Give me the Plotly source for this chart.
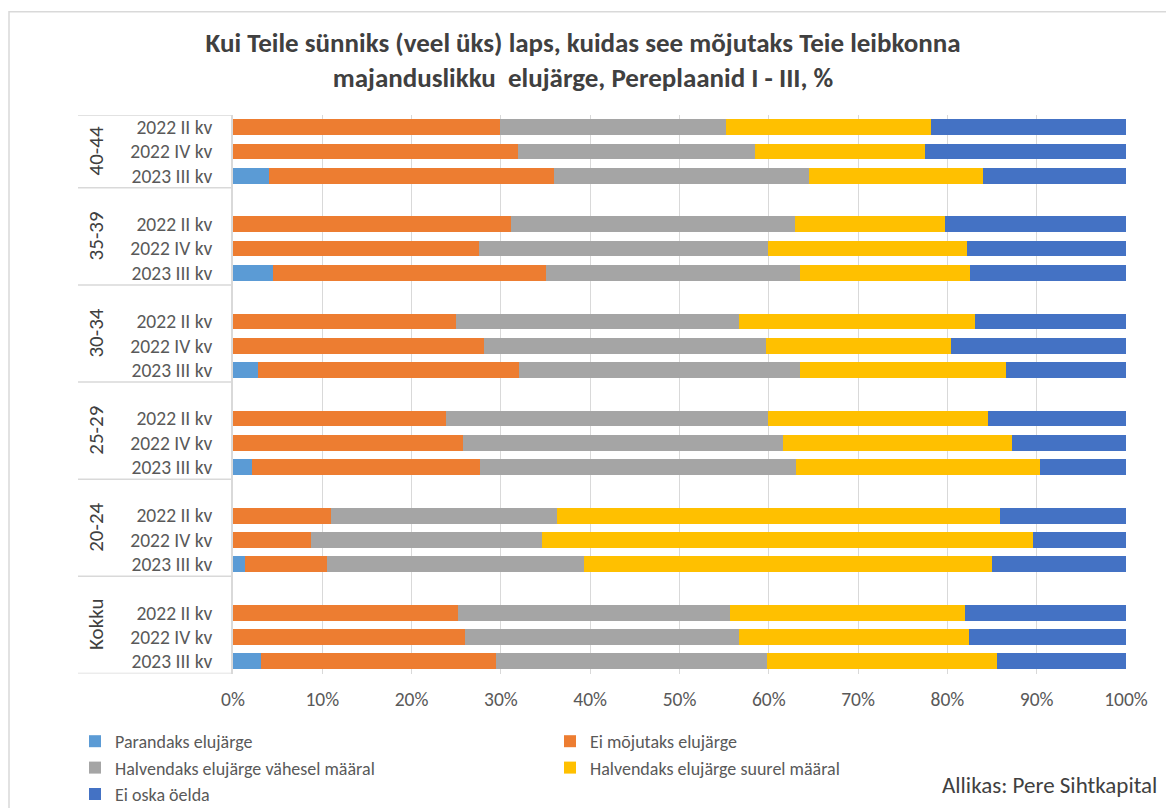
import plotly.graph_objects as go

groups = ["40-44", "35-39", "30-34", "25-29", "20-24", "Kokku"]
quarters = ["2022 II kv", "2022 IV kv", "2023 III kv"]

series_names = [
    "Parandaks elujärge",
    "Ei mõjutaks elujärge",
    "Halvendaks elujärge vähesel määral",
    "Halvendaks elujärge suurel määral",
    "Ei oska öelda",
]
series_colors = ["#5B9BD5", "#ED7D31", "#A5A5A5", "#FFC000", "#4472C4"]
# legend column of each series (two-column legend as in the reference)
series_legend = ["legend", "legend2", "legend", "legend2", "legend"]

# values in display order: group by group (top to bottom), quarters top to bottom
parandaks = [0, 0, 4.0, 0, 0, 4.5, 0, 0, 2.8, 0, 0, 2.1, 0, 0, 1.3, 0, 0, 3.1]
ei_mojutaks = [29.9, 31.9, 31.9, 31.1, 27.6, 30.5, 25.0, 28.1, 29.2,
               23.8, 25.8, 25.6, 11.0, 8.7, 9.2, 25.2, 26.0, 26.4]
vahesel = [25.3, 26.6, 28.6, 31.8, 32.3, 28.5, 31.7, 31.6, 31.5,
           36.1, 35.8, 35.4, 25.3, 25.9, 28.8, 30.4, 30.7, 30.3]
suurel = [23.0, 19.0, 19.5, 16.8, 22.3, 19.0, 26.4, 20.7, 23.1,
          24.7, 25.6, 27.3, 49.6, 55.0, 45.7, 26.4, 25.7, 25.7]
ei_oska = [21.8, 22.5, 16.0, 20.3, 17.8, 17.5, 16.9, 19.6, 13.4,
           15.4, 12.8, 9.6, 14.1, 10.4, 15.0, 18.0, 17.6, 14.5]

x_ticks = list(range(0, 101, 10))

FONT = "Carlito, 'Liberation Sans Narrow', 'Open Sans', sans-serif"

ng, nq = len(groups), len(quarters)
slot = nq + 1  # one empty slot between groups
positions, labels = [], []
for gi, g in enumerate(groups):
    for qi, q in enumerate(quarters):
        positions.append((ng - 1 - gi) * slot + (nq - 1 - qi))
        labels.append(q)
top = (ng - 1) * slot + nq - 0.5

fig = go.Figure()
for name, color, leg, vals in zip(series_names, series_colors, series_legend,
                                  [parandaks, ei_mojutaks, vahesel, suurel, ei_oska]):
    fig.add_trace(go.Bar(x=vals, y=positions, orientation="h", name=name,
                         marker=dict(color=color, line=dict(width=0)),
                         width=0.65, legend=leg))

W, H = 1166, 808
L, R, T, B = 233, 40, 115, 130
pw, ph = W - L - R, H - T - B
def px_x(px):
    return (px - L) / pw
def px_y(py):
    return (H - B - py) / ph

shapes = []
bounds = [-0.5]
for gi in range(ng):
    bounds.append(min(gi * slot + nq + 0.5, top))
for b in bounds:
    shapes.append(dict(type="line", xref="paper", yref="y", x0=px_x(78), x1=0,
                       y0=b, y1=b, line=dict(color="#D9D9D9", width=1.5)))
shapes.append(dict(type="rect", xref="paper", yref="paper", x0=px_x(9), x1=px_x(1180),
                   y0=px_y(820), y1=px_y(11), line=dict(color="#D9D9D9", width=1.5),
                   fillcolor="rgba(0,0,0,0)"))

annotations = []
for gi, g in enumerate(groups):
    k = ng - 1 - gi
    lo = bounds[k]
    hi = bounds[k + 1]
    annotations.append(dict(text=g, xref="paper", yref="y", x=px_x(96), y=(lo + hi) / 2,
                            xanchor="center", yanchor="middle",
                            textangle=-90, showarrow=False,
                            font=dict(family=FONT, size=21, color="#404040")))
annotations.append(dict(text="Allikas: Pere Sihtkapital", xref="paper", yref="paper",
                        x=px_x(1159), y=px_y(790), xanchor="right", yanchor="middle",
                        showarrow=False, font=dict(family=FONT, size=23, color="#404040")))

legend_common = dict(orientation="v", xref="paper", yref="container",
                     y=(H - 723) / H, xanchor="left", yanchor="top",
                     traceorder="normal", bgcolor="rgba(0,0,0,0)",
                     font=dict(family=FONT, size=18, color="#595959"),
                     itemclick=False, tracegroupgap=0)

fig.update_layout(
    width=W, height=H,
    margin=dict(l=L, r=R, t=T, b=B),
    barmode="stack",
    paper_bgcolor="white", plot_bgcolor="white",
    font=dict(family=FONT, color="#595959", size=19),
    title=dict(text="Kui Teile sünniks (veel üks) laps, kuidas see mõjutaks Teie leibkonna<br>majanduslikku  elujärge, Pereplaanid I - III, %",
               x=0.5, xref="container", xanchor="center", yref="container",
               y=(H - 52) / H, yanchor="middle",
               font=dict(family=FONT, size=27, color="#404040", weight="bold")),
    xaxis=dict(range=[0, 100], tickvals=x_ticks, ticktext=[f"{v}%" for v in x_ticks],
               showgrid=True, gridcolor="#D9D9D9", gridwidth=1, zeroline=False,
               showline=False, ticks="", ticklabelstandoff=12,
               tickfont=dict(size=19.5, color="#595959")),
    yaxis=dict(range=[-0.5, top], tickvals=positions, ticktext=labels,
               showgrid=False, zeroline=False, showline=True, linecolor="#D9D9D9",
               linewidth=1.5, ticks="", ticklabelstandoff=15,
               tickfont=dict(size=19.5, color="#595959")),
    legend=dict(legend_common, x=px_x(75)),
    legend2=dict(legend_common, x=px_x(550)),
    shapes=shapes, annotations=annotations,
    bargap=0,
)

fig.write_html("out.html", config={"displayModeBar": False},
               post_script="document.body.style.margin='0';")
